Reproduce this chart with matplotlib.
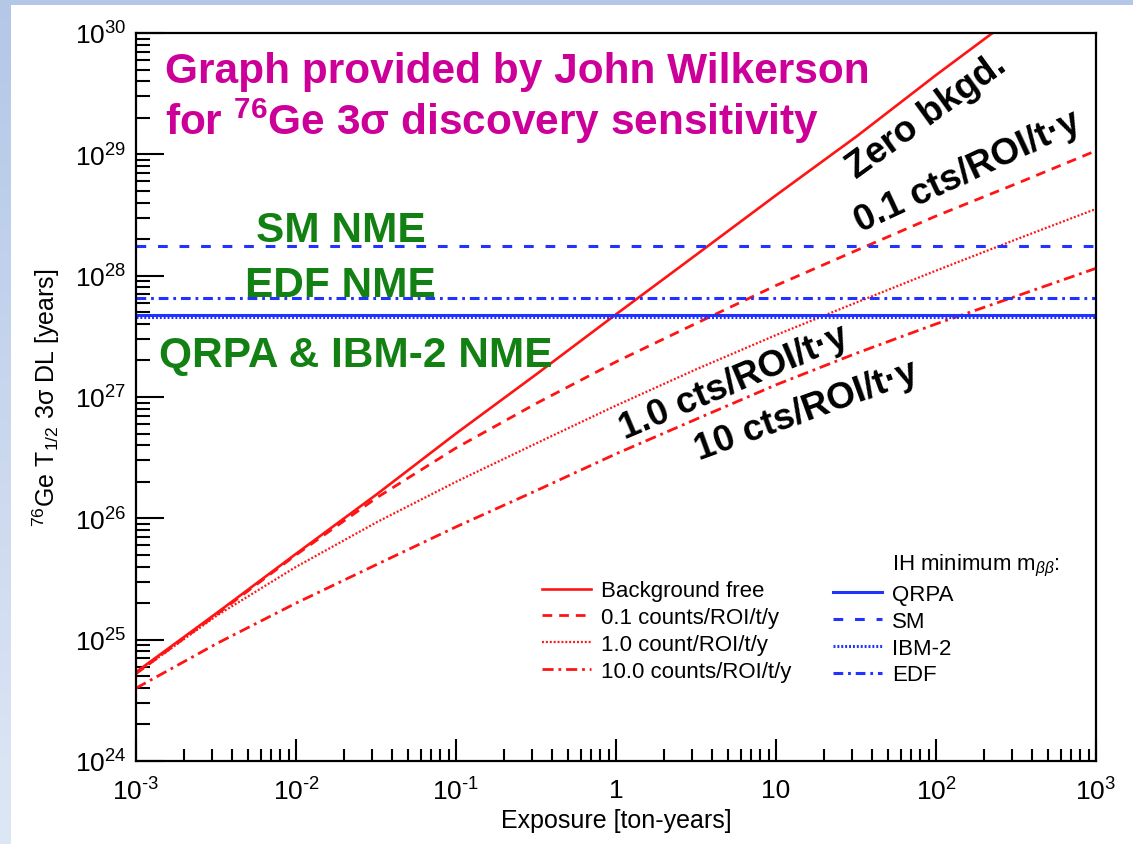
import numpy as np
import matplotlib.pyplot as plt
from matplotlib.lines import Line2D
from matplotlib.patches import Rectangle
from matplotlib.ticker import NullFormatter

plt.rcParams['font.family'] = ['Liberation Sans', 'DejaVu Sans']
plt.rcParams['mathtext.fontset'] = 'custom'
plt.rcParams['mathtext.rm'] = 'Liberation Sans'
plt.rcParams['mathtext.it'] = 'Liberation Sans:italic'
plt.rcParams['mathtext.bf'] = 'Liberation Sans:bold'
plt.rcParams['lines.scale_dashes'] = False

# exposure [ton-years] and 3 sigma discovery half-life [years]
exposure = [1e-3, 3.2e-3, 1e-2, 3.2e-2, 0.1, 0.32, 1, 3.2, 10, 32, 100, 320, 1000]
bkg_free = [5.4e24, 1.66e25, 5.1e25, 1.58e26, 5.0e26, 1.55e27, 4.8e27, 1.5e28, 4.6e28, 1.41e29, 4.5e29, 1.41e30, 4.4e30]
bkg_01 = [5.25e24, 1.62e25, 5.0e25, 1.48e26, 3.8e26, 8.9e26, 1.95e27, 4.07e27, 8.3e27, 1.62e28, 3.1e28, 5.75e28, 1.07e29]
bkg_1 = [5.25e24, 1.58e25, 3.98e25, 9.3e25, 2.0e26, 4.17e26, 8.5e26, 1.7e27, 3.24e27, 6.03e27, 1.1e28, 2.0e28, 3.55e28]
bkg_10 = [3.98e24, 9.3e24, 2.0e25, 4.17e25, 8.5e25, 1.7e26, 3.4e26, 6.6e26, 1.26e27, 2.3e27, 4.0e27, 6.8e27, 1.15e28]

# IH minimum m_bb half-lives for the different matrix elements
nme_names = ['QRPA', 'SM', 'IBM-2', 'EDF']
nme_halflife = [4.75e27, 1.76e28, 4.6e27, 6.6e27]

red_labels = ['Background free', '0.1 counts/ROI/t/y', '1.0 count/ROI/t/y', '10.0 counts/ROI/t/y']
xtick_vals = [1e-3, 1e-2, 1e-1, 1, 10, 1e2, 1e3]
xtick_text = [r'$10^{\text{-}3}$', r'$10^{\text{-}2}$', r'$10^{\text{-}1}$', '1', '10', r'$10^{2}$', r'$10^{3}$']

W, H = 1133, 845
fig = plt.figure(figsize=(W / 100, H / 100), dpi=100)

# slide background: light blue strips on the top and left edges
c_top = np.array([0.706, 0.780, 0.906])
c_bot = np.array([0.866, 0.902, 0.957])
nstep = 40
for i in range(nstep):
    f = i / (nstep - 1)
    col = c_top * (1 - f) + c_bot * f
    fig.patches.append(Rectangle((0, 1 - (i + 1) / nstep), 11 / W, 1 / nstep + 0.002,
                                 transform=fig.transFigure, color=col, lw=0, zorder=-10))
fig.patches.append(Rectangle((0, 1 - 6 / H), 1, 6 / H, transform=fig.transFigure,
                             color=c_top, lw=0, zorder=-10))

ax = fig.add_axes([136 / W, 1 - 762 / H, 960 / W, 728 / H])
red = '#ff1414'
blue = '#2233ff'

l_free, = ax.plot(exposure, bkg_free, color=red, lw=1.9, ls='-')
l_01, = ax.plot(exposure, bkg_01, color=red, lw=2.0, ls=(0, (7, 5)))
l_1, = ax.plot(exposure, bkg_1, color=red, lw=1.6, ls=(0, (1.4, 1.4)))
l_10, = ax.plot(exposure, bkg_10, color=red, lw=2.0, ls=(0, (8, 3.5, 2, 3.5)))

nme_styles = ['-', (0, (7, 8.5)), (0, (1.4, 1.4)), (0, (7, 3.5, 2, 3.5))]
nme_lines = []
for name, val, st in zip(nme_names, nme_halflife, nme_styles):
    ln = ax.axhline(val, color=blue, lw=2.2, ls=st)
    nme_lines.append(ln)

ax.set_xscale('log')
ax.set_yscale('log')
ax.set_xlim(1e-3, 1e3)
ax.set_ylim(1e24, 1e30)

ax.set_xticks(xtick_vals)
ax.set_xticklabels(xtick_text)
ax.xaxis.set_minor_formatter(NullFormatter())
ax.yaxis.set_minor_formatter(NullFormatter())
ax.xaxis.get_offset_text().set_visible(False)
ax.yaxis.get_offset_text().set_visible(False)
ax.tick_params(axis='both', which='both', direction='in', top=False, right=False, width=1.5, labelsize=19)
ax.tick_params(axis='y', which='major', length=20, pad=7)
ax.tick_params(axis='y', which='minor', length=10)
ax.tick_params(axis='x', which='major', length=16, pad=12)
ax.tick_params(axis='x', which='minor', length=9)
for sp in ax.spines.values():
    sp.set_linewidth(1.6)

ax.set_xlabel('Exposure [ton-years]', fontsize=18)
ax.xaxis.set_label_coords(0.5, -0.064)
ax.set_ylabel(r'$^{76}$Ge T$_{1/2}$ 3σ DL [years]', fontsize=18)
ax.yaxis.set_label_coords(-0.077, 0.5)

# legend: red sensitivity curves and blue NME lines
blank = Line2D([], [], ls='none')
handles = [blank, l_free, l_01, l_1, l_10, blank, nme_lines[0], nme_lines[1], nme_lines[2], nme_lines[3]]
labels = [' '] + red_labels + [r'IH minimum m$_{\beta\beta}$:'] + nme_names
ax.legend(handles, labels, ncol=2, loc='upper left', bbox_to_anchor=(531 / W, 1 - 542 / H),
          bbox_transform=fig.transFigure, frameon=False, fontsize=16, handlelength=2.2,
          handletextpad=0.45, columnspacing=1.88, labelspacing=0.26, borderpad=0)

# annotations
magenta = '#cc0099'
green = '#138013'
fig.text(165 / W, 1 - 83 / H, 'Graph provided by John Wilkerson', color=magenta,
         fontsize=30.5, fontweight='bold', va='baseline', ha='left')
fig.text(165 / W, 1 - 135 / H, r'for $\mathbf{^{76}}$Ge 3σ discovery sensitivity', color=magenta,
         fontsize=30.5, fontweight='bold', va='baseline', ha='left')

fig.text(341 / W, 1 - 242 / H, 'SM NME', color=green, fontsize=30.5, fontweight='bold', ha='center', va='baseline')
fig.text(340 / W, 1 - 297 / H, 'EDF NME', color=green, fontsize=30.5, fontweight='bold', ha='center', va='baseline')
fig.text(356 / W, 1 - 367 / H, 'QRPA & IBM-2 NME', color=green, fontsize=30.5, fontweight='bold', ha='center', va='baseline')

fig.text(927 / W, 1 - 117 / H, 'Zero bkgd.', fontsize=26.5, fontweight='bold', rotation=36,
         ha='center', va='center', rotation_mode='anchor')
fig.text(968 / W, 1 - 172 / H, '0.1 cts/ROI/t·y', fontsize=26.5, fontweight='bold', rotation=25,
         ha='center', va='center', rotation_mode='anchor')
fig.text(734 / W, 1 - 383 / H, '1.0 cts/ROI/t·y', fontsize=26.5, fontweight='bold', rotation=23,
         ha='center', va='center', rotation_mode='anchor')
fig.text(806 / W, 1 - 411 / H, '10 cts/ROI/t·y', fontsize=26.5, fontweight='bold', rotation=20,
         ha='center', va='center', rotation_mode='anchor')

fig.savefig('out.png', dpi=100)
